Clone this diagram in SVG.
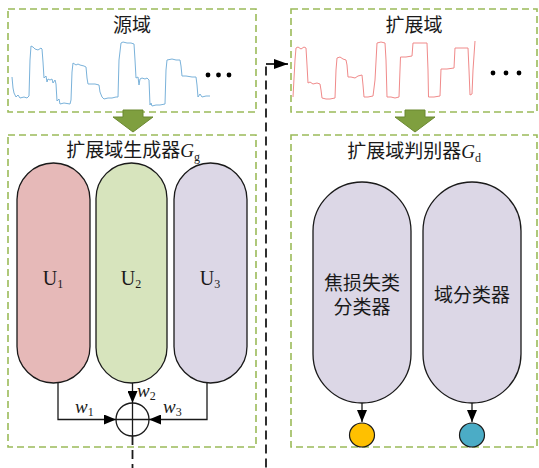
<svg xmlns="http://www.w3.org/2000/svg" width="539" height="468" viewBox="0 0 539 468">
<style>
.box{fill:none;stroke:#9bbb59;stroke-width:1.6;stroke-dasharray:7 4}
.t{font-family:'Liberation Serif','Noto Sans CJK SC',serif;font-size:19px;fill:#1a1a1a}
.lat{font-family:'Liberation Serif',serif;fill:#1a1a1a}
.pill{stroke:#1a1a1a;stroke-width:1.3}
.ln{fill:none;stroke:#1a1a1a;stroke-width:1.3}
.big{fill:#7f9f3f;stroke:#6a8830;stroke-width:1}
.wave{fill:none;stroke-width:1;stroke-linejoin:round}
</style>
<defs>
<marker id="ah" markerWidth="12" markerHeight="10" refX="12" refY="5" orient="auto" markerUnits="userSpaceOnUse" viewBox="0 0 12 10">
<path d="M0,0 L12,5 L0,10 Z" fill="#000"/>
</marker>
<marker id="ahb" markerWidth="14" markerHeight="10" refX="14" refY="5" orient="auto" markerUnits="userSpaceOnUse" viewBox="0 0 14 10">
<path d="M0,0 L14,5 L0,10 Z" fill="#000"/>
</marker>
</defs>
<rect width="539" height="468" fill="#fff"/>

<g id="source-domain">
<rect class="box" x="8" y="9" width="248" height="103"/>
<text class="t" x="132" y="32" text-anchor="middle">源域</text>
<path class="wave" stroke="#7ab2da" d="M12,77 L13,88 L14,93 L16,97 L18,95 L20,98 L24,97 L27,98 L29,96 L30,60 L31,46 L33,47 L35,49 L38,50 L41,48 L42,49 L43,62 L44,78 L46,76 L47,82 L48,79 L50,80 L52,79 L53,83 L55,80 L56,84 L57,101 L59,99 L60,104 L64,103 L70,104 L71,100 L72,72 L73,63 L76,65 L78,64 L80,65 L84,66 L86,67 L87,78 L88,84 L95,84 L99,85 L100,92 L102,97 L104,99 L108,98 L112,98 L116,97 L118,97 L119,60 L121,43 L123,42 L127,43 L131,43 L134,44 L135,60 L136,78 L138,77 L139,85 L140,79 L142,78 L145,79 L147,78 L149,80 L150,105 L151,103 L152,106 L156,105 L160,105 L165,104 L166,70 L167,60 L172,59 L176,60 L180,60 L181,66 L182,76 L186,76 L192,77 L196,77 L197,85 L198,97 L200,94 L202,97 L206,96 L210,96"/>
<circle cx="208" cy="75" r="2.4"/>
<circle cx="218.5" cy="75" r="2.4"/>
<circle cx="229" cy="75" r="2.4"/>
</g>

<g id="extended-domain">
<rect class="box" x="291" y="9" width="246" height="103"/>
<text class="t" x="414" y="32" text-anchor="middle">扩展域</text>
<path class="wave" stroke="#f08a8a" d="M293,97 L295,60 L296,48 L298,47 L301,49 L304,47 L306,48 L307,65 L308,83 L310,82 L313,84 L317,83 L320,84 L321,90 L322,98 L326,99 L330,99 L335,98 L336,70 L337,58 L340,57 L343,59 L346,60 L347,65 L348,77 L351,77 L355,78 L358,76 L362,75 L363,85 L364,97 L368,97 L373,96 L375,80 L377,43 L381,42 L385,43 L386,60 L387,97 L391,97 L395,98 L399,97 L400,70 L400.5,57 L406,57 L412,56 L413,43 L420,43 L427,43 L428,70 L428.5,97 L434,97 L440,96 L441,69 L447,69 L454,68 L455,48 L462,48 L468,48 L469,70 L470,95 L472,94 L473,70 L475,41"/>
<circle cx="493" cy="73" r="2.4"/>
<circle cx="506" cy="73" r="2.4"/>
<circle cx="519" cy="73" r="2.4"/>
</g>

<g id="arrow-left">
<path class="big" d="M123,110 L143,110 L143,117 L153,117 L133,132 L113,117 L123,117 Z"/>
</g>
<g id="arrow-right">
<path class="big" d="M405,110 L425,110 L425,117 L435,117 L415,132 L395,117 L405,117 Z"/>
</g>

<g id="generator">
<rect class="box" x="8" y="135" width="248" height="312"/>
<text class="t" x="133" y="157" text-anchor="middle">扩展域生成器<tspan class="lat" font-style="italic">G</tspan><tspan class="lat" font-size="12" dy="4">g</tspan></text>
</g>
<g id="U1">
<rect class="pill" x="17" y="163" width="73" height="220" rx="36.5" fill="#e6b9b8"/>
<text class="lat" x="53" y="285" font-size="20" text-anchor="middle">U<tspan font-size="12" dy="3">1</tspan></text>
</g>
<g id="U2">
<rect class="pill" x="96" y="163" width="71" height="220" rx="35.5" fill="#d7e4bd"/>
<text class="lat" x="131" y="285" font-size="20" text-anchor="middle">U<tspan font-size="12" dy="3">2</tspan></text>
</g>
<g id="U3">
<rect class="pill" x="174" y="163" width="73" height="220" rx="36.5" fill="#dcd7e6"/>
<text class="lat" x="210" y="285" font-size="20" text-anchor="middle">U<tspan font-size="12" dy="3">3</tspan></text>
</g>
<g id="sum">
<circle cx="132.5" cy="419.5" r="16.5" fill="#fff" stroke="#1a1a1a" stroke-width="1.3"/>
<path class="ln" d="M116,419.5 L149,419.5 M132.5,403 L132.5,436"/>
</g>

<g id="discriminator">
<rect class="box" x="291" y="135" width="246" height="312"/>
<text class="t" x="414" y="158" text-anchor="middle">扩展域判别器<tspan class="lat" font-style="italic">G</tspan><tspan class="lat" font-size="12" dy="4">d</tspan></text>
</g>
<g id="focal-classifier">
<rect class="pill" x="313" y="182" width="98" height="221" rx="49" fill="#dcd7e6" stroke-width="1.6"/>
<text class="t" x="362" y="290" text-anchor="middle">焦损失类</text>
<text class="t" x="362" y="314" text-anchor="middle">分类器</text>
</g>
<g id="domain-classifier">
<rect class="pill" x="423" y="182" width="98" height="221" rx="49" fill="#dcd7e6" stroke-width="1.6"/>
<text class="t" x="472" y="302" text-anchor="middle">域分类器</text>
</g>
<g id="out-yellow">
<ellipse cx="362" cy="435" rx="12.5" ry="12" fill="#ffc000" stroke="#1a1a1a" stroke-width="1.2"/>
</g>
<g id="out-blue">
<ellipse cx="472" cy="435" rx="12.5" ry="12" fill="#4bacc6" stroke="#1a1a1a" stroke-width="1.2"/>
</g>

<g id="connectors">
<path class="ln" d="M58,383 L58,419.5 L116,419.5" marker-end="url(#ah)"/>
<path class="ln" d="M132.5,383 L132.5,403" marker-end="url(#ah)"/>
<path class="ln" d="M207,383 L207,419.5 L149,419.5" marker-end="url(#ah)"/>
<path class="ln" d="M362,403 L362,422" marker-end="url(#ah)"/>
<path class="ln" d="M472,403 L472,422" marker-end="url(#ah)"/>
<path fill="none" stroke="#1a1a1a" stroke-width="1.8" stroke-dasharray="9 5" d="M132.5,436 L132.5,490 L266,490 L266,64"/>
<path fill="none" stroke="#1a1a1a" stroke-width="1.8" d="M266,64 L288,64" marker-end="url(#ahb)"/>
<text class="lat" x="75" y="413" font-size="19" font-style="italic">w<tspan font-size="12" dy="3" font-style="normal">1</tspan></text>
<text class="lat" x="137" y="397" font-size="19" font-style="italic">w<tspan font-size="12" dy="3" font-style="normal">2</tspan></text>
<text class="lat" x="163" y="413" font-size="19" font-style="italic">w<tspan font-size="12" dy="3" font-style="normal">3</tspan></text>
</g>
</svg>
